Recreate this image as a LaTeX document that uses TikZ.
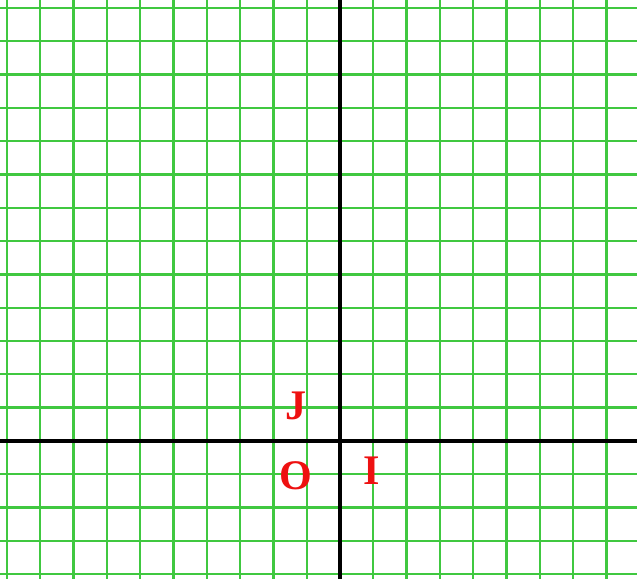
\documentclass[tikz,border=0pt]{standalone}
\usepackage{fontspec}
\setmainfont{Liberation Serif}
\usepackage{xcolor}
\usepackage{tikz}
\definecolor{GridGreen}{HTML}{40C840}
\definecolor{LabelRed}{HTML}{EE1111}

\begin{document}
\begin{tikzpicture}[
  gridline/.style={draw=GridGreen,line width=2pt},
  axis/.style={draw=black,line width=2.8pt},
  lbl/.style={text=LabelRed,font=\fontsize{36}{40}\selectfont\bfseries,inner sep=0pt}
]
\useasboundingbox (-10.21,-4.14) rectangle (8.92,13.24);
\clip (-10.21,-4.14) rectangle (8.92,13.24);
\fill[white] (-10.21,-4.14) rectangle (8.92,13.24);

% squared paper
\draw[gridline] (-10.6,-4.6) grid (9.4,13.6);

% axes
\draw[axis] (-10.6,0) -- (9.4,0);
\draw[axis] (0,-4.6) -- (0,13.6);

\node[lbl] (labelJ) at (-1.32,1.05) {J};
\node[lbl] (labelO) at (-1.31,-1.05) {O};
\node[lbl] (labelI) at (0.95,-0.9) {I};
\end{tikzpicture}
\end{document}
